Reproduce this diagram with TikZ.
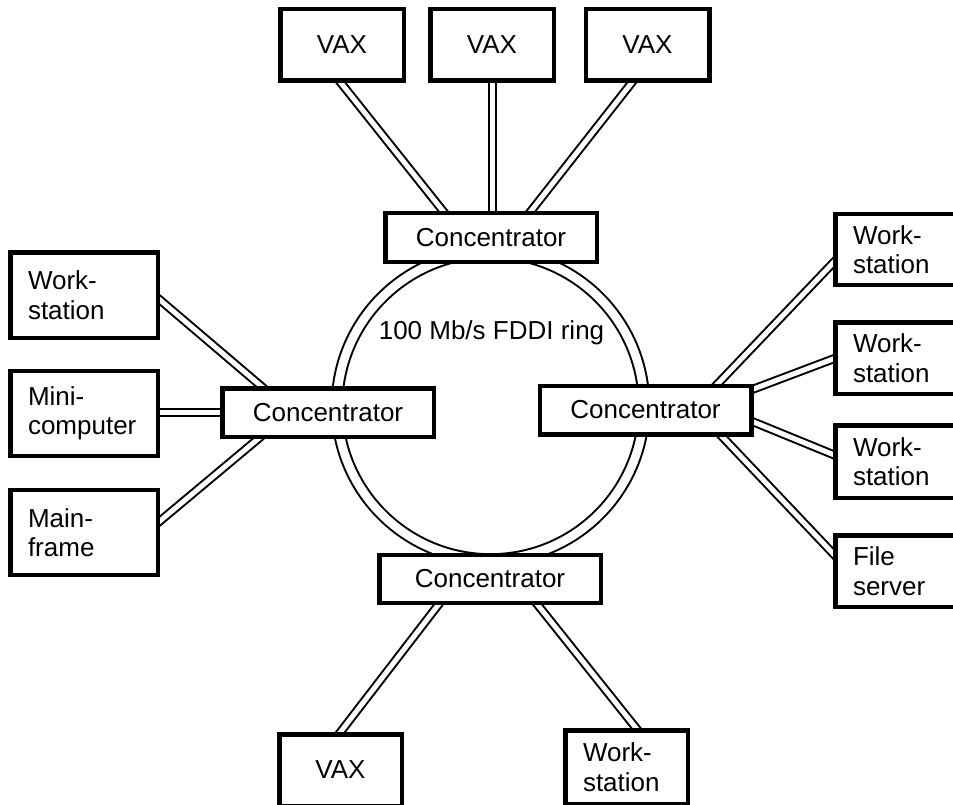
\documentclass[tikz,border=0pt]{standalone}
\usepackage{fontspec}
\setmainfont{Liberation Sans}
\usetikzlibrary{calc,backgrounds}
\begin{document}
\begin{tikzpicture}[x=1pt,y=-1pt,
  box/.style={draw, line width=4.5pt, fill=white, inner sep=0pt, font=\fontsize{26}{29.5}\selectfont},
  vaxbox/.style={box, minimum width=123.5pt, minimum height=71.5pt},
  conc/.style={box, minimum width=211.5pt, minimum height=48.5pt},
  lbox/.style={box, align=left, inner xsep=17.75pt},
  link/.style={double, line width=2pt, double distance=5pt, shorten <=-5pt, shorten >=-5pt},
  ring/.style={double, line width=2pt, double distance=8.6pt},
  lbl/.style={font=\fontsize{26}{29.5}\selectfont, inner sep=0pt}
]
\useasboundingbox (0,0) rectangle (953,805);

% top
\node[vaxbox] (vax1) at (342,45) {VAX};
\node[vaxbox] (vax2) at (492,45) {VAX};
\node[vaxbox] (vax3) at (647.5,45) {VAX};
\node[conc] (topc) at (491,237.5) {Concentrator};

% left
\node[conc] (leftc) at (328,412.5) {Concentrator};
\node[lbox, text width=112pt, minimum height=85.5pt] (wsl) at (84,295) {Work-\\station};
\node[lbox, text width=112pt, minimum height=85pt] (mini) at (84,413.5) {Mini-\\computer};
\node[lbox, text width=112pt, minimum height=85pt] (main) at (84,532.5) {Main-\\frame};

% right
\node[conc] (rightc) at (645.5,410) {Concentrator};
\node[lbox, text width=114.5pt, minimum height=70.5pt] (ws1) at (910.25,249.5) {Work-\\station};
\node[lbox, text width=114.5pt, minimum height=71.5pt] (ws2) at (910.25,358) {Work-\\station};
\node[lbox, text width=114.5pt, minimum height=72.5pt] (ws3) at (910.25,461.5) {Work-\\station};
\node[lbox, text width=114.5pt, minimum height=71.5pt] (fs) at (910.25,571) {File\\server};

% bottom
\node[box, minimum width=221.5pt, minimum height=48pt] (botc) at (490,579) {Concentrator};
\node[vaxbox, minimum width=122.5pt] (vaxb) at (340.5,770) {VAX};
\node[lbox, text width=87pt, minimum height=73.5pt] (wsb) at (626.5,767) {Work-\\station};

% ring label
\node[lbl, anchor=base] (ringlbl) at (491.5,339) {100 Mb/s FDDI ring};

\begin{scope}[on background layer]
  \draw[ring] (490.5,406) circle[radius=153.5];
  % top links
  \draw[link] ($(vax1.south)+(-1,0)$) -- ($(topc.north)+(-48,0)$);
  \draw[link] (vax2.south) -- ($(topc.north)+(1,0)$);
  \draw[link] ($(vax3.south)+(-16,0)$) -- ($(topc.north)+(40,0)$);
  % left links
  \draw[link] ($(wsl.east)+(0,5)$) -- ($(leftc.north)+(-67,0)$);
  \draw[link] (mini.east |- leftc.west) -- (leftc.west);
  \draw[link] ($(main.east)+(0,-11.5)$) -- ($(leftc.south)+(-70,0)$);
  % right links
  \draw[link] ($(rightc.north)+(72.5,0)$) -- ($(ws1.west)+(0,13.5)$);
  \draw[link] ($(rightc.east)+(0,-21)$) -- ($(ws2.west)+(0,1)$);
  \draw[link] ($(rightc.east)+(0,12)$) -- ($(ws3.west)+(0,-7)$);
  \draw[link] ($(rightc.south)+(76.5,0)$) -- ($(fs.west)+(0,-17.5)$);
  % bottom links
  \draw[link] ($(botc.south)+(-52,0)$) -- (vaxb.north);
  \draw[link] ($(botc.south)+(48,0)$) -- ($(wsb.north)+(9.5,0)$);
\end{scope}
\end{tikzpicture}
\end{document}
